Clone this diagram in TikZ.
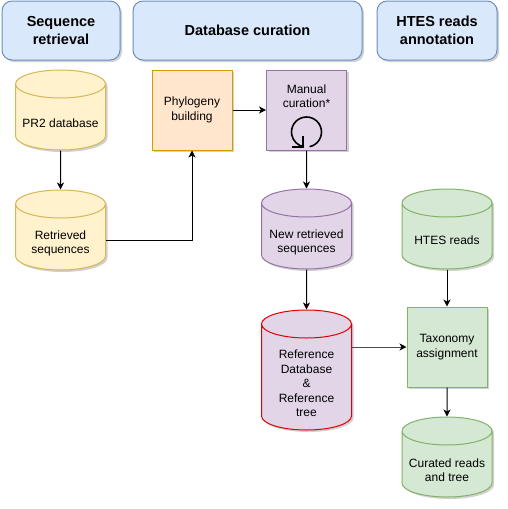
\documentclass[tikz,border=0pt]{standalone}
\usepackage{fontspec}
\setmainfont{Liberation Sans}
\usetikzlibrary{shapes.geometric}
\usetikzlibrary{arrows.meta}
\usetikzlibrary{shadows}

\definecolor{hdrfill}{HTML}{DAE8FC}
\definecolor{hdrline}{HTML}{6C8EBF}
\definecolor{yelfill}{HTML}{FFF2CC}
\definecolor{yelline}{HTML}{D6B656}
\definecolor{orafill}{HTML}{FFE6CC}
\definecolor{oraline}{HTML}{D79B00}
\definecolor{purfill}{HTML}{E1D5E7}
\definecolor{purline}{HTML}{9673A6}
\definecolor{grnfill}{HTML}{D5E8D4}
\definecolor{grnline}{HTML}{82B366}
\definecolor{refline}{HTML}{E00000}

\tikzset{
  shade/.style={drop shadow={shadow xshift=2pt, shadow yshift=-2pt, opacity=0.18, fill=black}},
  header/.style={draw=hdrline, fill=hdrfill, rounded corners=10pt, line width=1pt, minimum height=59pt, align=center, font=\fontsize{14.5}{18}\selectfont\bfseries, shade},
  box/.style={draw, line width=1pt, minimum width=80pt, minimum height=80pt, align=center, font=\fontsize{12}{14.4}\selectfont, shade},
  db/.style={cylinder, shape border rotate=90, inner sep=5pt, aspect=2.8, draw, line width=1pt, minimum width=90pt, minimum height=80pt, anchor=shape center, shade},
  txt/.style={align=center, font=\fontsize{12}{14.4}\selectfont},
  flow/.style={line width=1pt, -{Stealth[length=7pt,width=7pt,inset=2pt]}},
}

\begin{document}
\begin{tikzpicture}[x=1pt,y=1pt]
  \useasboundingbox (0,0) rectangle (508,-509);

  % stage headers
  \node[header, minimum width=118pt] (hseq) at (61,-30.5) {Sequence\\retrieval};
  \node[header, minimum width=229pt] (hcur) at (247.5,-30.5) {Database curation};
  \node[header, minimum width=120pt] (hann) at (437,-30.5) {HTES reads\\annotation};

  % sequence retrieval
  \node[db, draw=yelline, fill=yelfill, label={[txt,yshift=-3pt]center:PR2 database}] (pr2) at (60.5,-110) {};
  \node[db, draw=yelline, fill=yelfill, label={[txt,yshift=-3pt]center:{Retrieved\\sequences}}] (ret) at (60.5,-230) {};

  % database curation
  \node[box, draw=oraline, fill=orafill] (phy) at (192,-110) {Phylogeny\\building};
  \node[box, draw=purline, fill=purfill, label={[txt,yshift=14pt]center:{Manual\\curation*}}] (man) at (306.5,-110) {};
  \node[db, draw=purline, fill=purfill, label={[txt,yshift=-3pt]center:{New retrieved\\sequences}}] (newr) at (306.5,-229) {};
  \node[db, draw=refline, fill=purfill, minimum height=120pt, label={[txt,yshift=-3pt]center:{Reference\\Database\\\&\\Reference\\tree}}] (refdb) at (306.5,-370) {};

  % reads annotation
  \node[db, draw=grnline, fill=grnfill, label={[txt,yshift=-1pt]center:HTES reads}] (htes) at (447,-229) {};
  \node[box, draw=grnline, fill=grnfill] (tax) at (447,-347) {Taxonomy\\assignment};
  \node[db, draw=grnline, fill=grnfill, label={[txt,yshift=-3pt]center:{Curated reads\\and tree}}] (cur) at (447,-457) {};

  % loop icon
  \begin{scope}[shift={(man.center)}, line width=1.6pt]
    \draw (0,-22) ++(-78:15) arc[start angle=-78, end angle=260, radius=15];
    \draw (-14.8,-36.7) -- (-3.8,-36.7) -- (-3.8,-25.7);
  \end{scope}

  \draw[flow] (pr2.south) -- (ret.north);
  \draw[flow] (ret.east) -| (phy.south);
  \draw[flow] (phy.east) -- (man.west);
  \draw[flow] (man.south) -- (newr.north);
  \draw[flow] (newr.south) -- (refdb.north);
  \draw[flow] (htes.south) -- (tax.north);
  \draw[flow, draw=black!70, -{Stealth[length=7pt,width=7pt,inset=2pt,black]}] (tax.west -| refdb.east) -- (tax.west);
  \draw[flow] (tax.south) -- (cur.north);
\end{tikzpicture}
\end{document}
